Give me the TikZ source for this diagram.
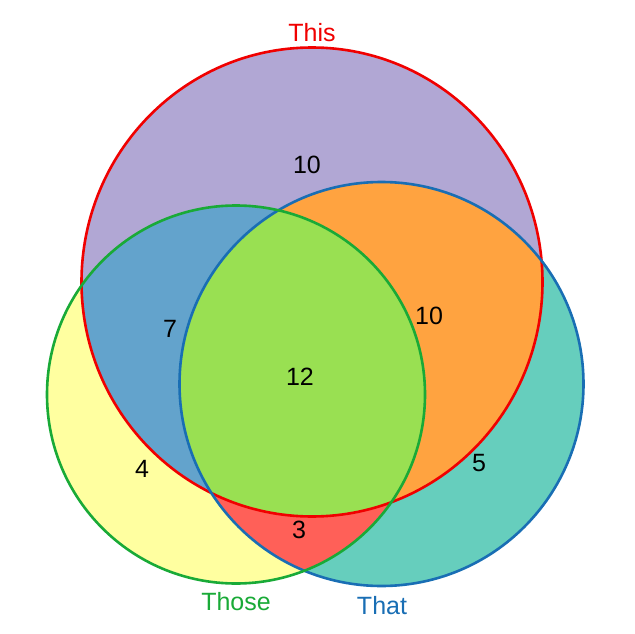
\documentclass[tikz,border=0pt]{standalone}
\usepackage{fontspec}
\setmainfont{Liberation Sans}
\definecolor{cPurple}{RGB}{177,167,212}
\definecolor{cOrange}{RGB}{255,163,64}
\definecolor{cTeal}{RGB}{102,206,189}
\definecolor{cYellow}{RGB}{255,255,160}
\definecolor{cBlue}{RGB}{99,163,204}
\definecolor{cGreen}{RGB}{153,224,82}
\definecolor{cRed}{RGB}{255,96,88}
\definecolor{lRed}{RGB}{240,0,0}
\definecolor{lBlue}{RGB}{25,110,180}
\definecolor{lGreen}{RGB}{25,170,55}
\begin{document}
\begin{tikzpicture}[x=1pt,y=-1pt,
  num/.style={font=\fontsize{25}{25}\selectfont, text=black, inner sep=0pt},
  lab/.style={font=\fontsize{25}{25}\selectfont, inner sep=0pt},
  outline/.style={line width=2.6pt}]
\useasboundingbox (0,0) rectangle (635,634);
\def\pthis{(312,282) ellipse [x radius=230.5, y radius=234.5]}
\def\pthat{(381.5,384) circle [radius=202]}
\def\pthose{(236,394.5) circle [radius=189]}
% single regions
\fill[cPurple] \pthis;
\fill[cTeal] \pthat;
\fill[cYellow] \pthose;
% pair intersections
\begin{scope}
  \clip \pthis;
  \fill[cOrange] \pthat;
  \fill[cBlue] \pthose;
\end{scope}
\begin{scope}
  \clip \pthat;
  \fill[cRed] \pthose;
\end{scope}
% triple
\begin{scope}
  \clip \pthis;
  \clip \pthat;
  \fill[cGreen] \pthose;
\end{scope}
% outlines
\draw[outline, lRed] \pthis;
\draw[outline, lBlue] \pthat;
\draw[outline, lGreen] \pthose;
% set labels
\node[lab, text=lRed] (tThis) at (312,33) {This};
\node[lab, text=lBlue] (tThat) at (382,606) {That};
\node[lab, text=lGreen] (tThose) at (236,602) {Those};
% counts
\node[num] (nA) at (307,165) {10};
\node[num] (nAC) at (170,329) {7};
\node[num] (nAB) at (429,316) {10};
\node[num] (nABC) at (300,377) {12};
\node[num] (nC) at (142,469) {4};
\node[num] (nB) at (479,463) {5};
\node[num] (nBC) at (299,530) {3};
\end{tikzpicture}
\end{document}
